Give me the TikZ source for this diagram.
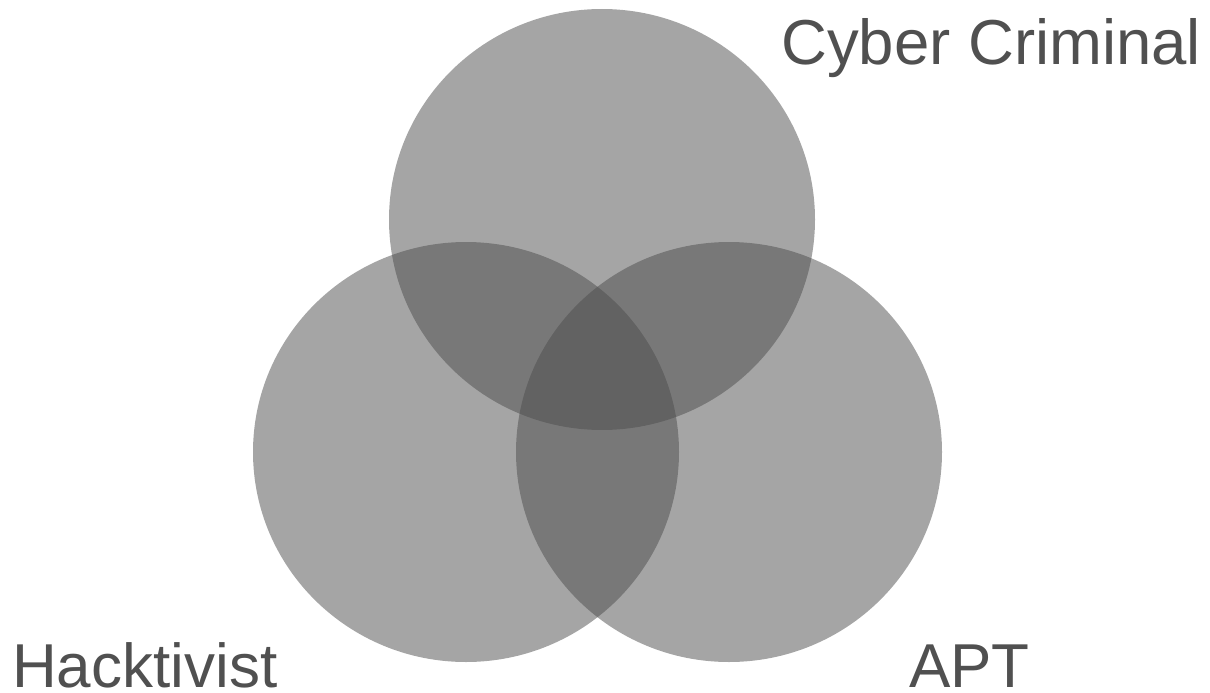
\documentclass[tikz,border=0pt]{standalone}
\usepackage{fontspec}
\setmainfont{Liberation Sans}
\definecolor{setfill}{RGB}{76,76,76}
\definecolor{labeltext}{RGB}{80,80,80}
\begin{document}
\begin{tikzpicture}[x=1pt,y=-1pt,
  setcircle/.style={fill=setfill,fill opacity=0.5,draw=none},
  setlabel/.style={anchor=base west,inner sep=0pt,text=labeltext,font=\fontsize{62}{62}\selectfont}]
  \useasboundingbox (0,0) rectangle (1210,693);
  % the three sets
  \fill[setcircle] (602,219.5) ellipse[x radius=213,y radius=210.5];
  \fill[setcircle] (466,452) ellipse[x radius=213,y radius=210];
  \fill[setcircle] (729,452) ellipse[x radius=213,y radius=210];
  % set names
  \node[setlabel,font=\fontsize{63.5}{63.5}\selectfont] (crim) at (781,64) {Cyber Criminal};
  \node[setlabel,text depth=0pt] (hack) at (12,687) {Hacktivist};
  \node[setlabel,text depth=0pt] (apt) at (909,687) {APT};
\end{tikzpicture}
\end{document}
